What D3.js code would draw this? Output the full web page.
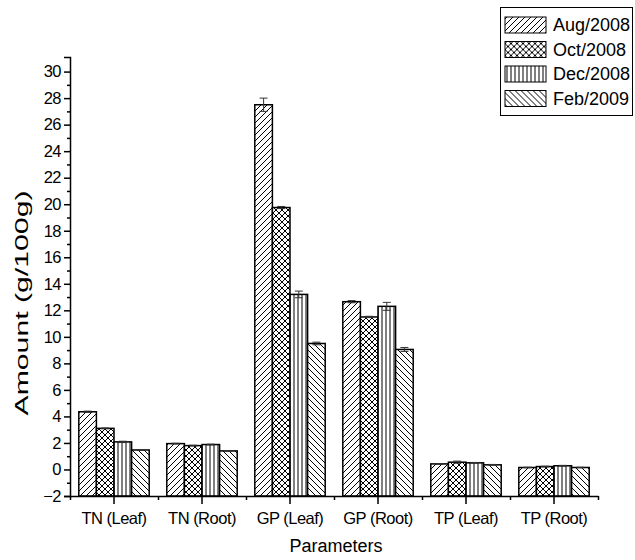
<!DOCTYPE html>
<html>
<head>
<meta charset="utf-8">
<script src="https://cdn.jsdelivr.net/npm/d3@7"></script>
<style>
  body { margin: 0; background: #fff; }
  svg { font-family: "Liberation Sans", Arial, sans-serif; }
</style>
</head>
<body>
<div id="chart"></div>
<script>
// data
var categories = ["TN (Leaf)", "TN (Root)", "GP (Leaf)", "GP (Root)", "TP (Leaf)", "TP (Root)"];
var seriesNames = ["Aug/2008", "Oct/2008", "Dec/2008", "Feb/2009"];
var aug = [4.35, 1.95, 27.5, 12.65, 0.42, 0.15];
var oct = [3.1, 1.8, 19.75, 11.5, 0.55, 0.22];
var dec = [2.08, 1.88, 13.2, 12.3, 0.5, 0.28];
var feb = [1.47, 1.4, 9.5, 9.05, 0.35, 0.15];
var augErr = [0.05, 0.03, 0.5, 0.08, 0.03, 0.02];
var octErr = [0.03, 0.03, 0.08, 0.05, 0.08, 0.03];
var decErr = [0.05, 0.03, 0.25, 0.3, 0.03, 0.03];
var febErr = [0.03, 0.03, 0.1, 0.15, 0.03, 0.02];
var yTicks = d3.range(-2, 31, 2);

var values = [aug, oct, dec, feb];
var errors = [augErr, octErr, decErr, febErr];
var patterns = ["pAug", "pOct", "pDec", "pFeb"];

var width = 635, height = 560;
var plotLeft = 70, plotRight = 598, plotTop = 57, plotBottom = 496;

var svg = d3.select("#chart").append("svg")
  .attr("width", width)
  .attr("height", height);

// hatch patterns
var defs = svg.append("defs");
function hatch(id, w, h, d) {
  defs.append("pattern")
    .attr("id", id)
    .attr("patternUnits", "userSpaceOnUse")
    .attr("width", w)
    .attr("height", h)
    .call(function(p) {
      p.append("rect").attr("width", w).attr("height", h).attr("fill", "#fff");
      p.append("path").attr("d", d).attr("stroke", "#000").attr("stroke-width", 1).attr("fill", "none");
    });
}
hatch("pAug", 6, 6, "M-1,1 l2,-2 M0,6 l6,-6 M5,7 l2,-2");
hatch("pFeb", 6, 6, "M-1,5 l2,2 M0,0 l6,6 M5,-1 l2,2");
hatch("pOct", 6, 6, "M-1,1 l2,-2 M0,6 l6,-6 M5,7 l2,-2 M-1,5 l2,2 M0,0 l6,6 M5,-1 l2,2");
hatch("pDec", 4, 4, "M2,0 V4");

var x0 = d3.scaleBand().domain(categories).range([plotLeft, plotRight]);
var x1 = d3.scaleBand().domain(seriesNames).range([0, x0.bandwidth()]).paddingOuter(0.5);
var y = d3.scaleLinear().domain([-2, 31.1]).range([plotBottom, plotTop]);

// bars
var bars = [];
seriesNames.forEach(function(s, si) {
  categories.forEach(function(c, ci) {
    bars.push({ cat: c, series: s, si: si, v: values[si][ci], e: errors[si][ci] });
  });
});

var g = svg.append("g");
g.selectAll("rect.bar")
  .data(bars)
  .enter().append("rect")
  .attr("class", "bar")
  .attr("x", function(d) { return x0(d.cat) + x1(d.series); })
  .attr("width", x1.bandwidth())
  .attr("y", function(d) { return y(d.v); })
  .attr("height", function(d) { return y(-2) - y(d.v); })
  .attr("fill", function(d) { return "url(#" + patterns[d.si] + ")"; })
  .attr("stroke", "#000")
  .attr("stroke-width", 1.5);

// error bars
function cx(d) { return x0(d.cat) + x1(d.series) + x1.bandwidth() / 2; }
var eb = g.selectAll("g.err").data(bars).enter().append("g")
  .attr("class", "err")
  .attr("stroke", "#333").attr("stroke-width", 1);
eb.append("line")
  .attr("x1", cx)
  .attr("x2", cx)
  .attr("y1", function(d) { return y(d.v + d.e); })
  .attr("y2", function(d) { return y(d.v - d.e); });
eb.selectAll("line.cap")
  .data(function(d) { return [d.v + d.e, d.v - d.e].map(function(v) { return { d: d, v: v }; }); })
  .enter().append("line")
  .attr("class", "cap")
  .attr("x1", function(o) { return cx(o.d) - 4; })
  .attr("x2", function(o) { return cx(o.d) + 4; })
  .attr("y1", function(o) { return y(o.v); })
  .attr("y2", function(o) { return y(o.v); });

// y axis
svg.append("g")
  .attr("transform", "translate(" + plotLeft + ",0)")
  .call(d3.axisLeft(y).tickValues(yTicks).tickSizeOuter(0).tickSize(6).tickPadding(3));
svg.append("g")
  .attr("transform", "translate(" + plotLeft + ",0)")
  .call(d3.axisLeft(y).tickValues(d3.range(-1, 31, 2)).tickSize(3).tickFormat("").tickSizeOuter(0))
  .call(function(a) { a.select(".domain").remove(); });

// x axis
svg.append("g")
  .attr("transform", "translate(0," + plotBottom + ")")
  .call(d3.axisBottom(x0).tickSize(8).tickSizeOuter(0).tickPadding(8));
svg.append("g")
  .attr("transform", "translate(0," + plotBottom + ")")
  .call(d3.axisBottom(d3.scaleLinear().domain([0, categories.length]).range([plotLeft, plotRight]))
    .tickValues(d3.range(0, categories.length + 1)).tickSize(4).tickFormat("").tickSizeOuter(0))
  .call(function(a) { a.select(".domain").remove(); });

svg.selectAll(".domain").attr("stroke", "#000").attr("stroke-width", 1.5);
svg.selectAll(".tick line").attr("stroke", "#000").attr("stroke-width", 1.5);
svg.selectAll(".tick text").attr("font-size", 16.5).attr("fill", "#000")
  .attr("letter-spacing", "-0.5px")
  .attr("font-family", "'Liberation Sans', Arial, sans-serif");

// axis titles
svg.append("text")
  .attr("transform", "translate(28,303) rotate(-90)")
  .attr("text-anchor", "middle")
  .attr("font-size", 19)
  .attr("textLength", 225)
  .attr("lengthAdjust", "spacingAndGlyphs")
  .text("Amount (g/100g)");

svg.append("text")
  .attr("x", 336)
  .attr("y", 552)
  .attr("text-anchor", "middle")
  .attr("font-size", 18)
  .text("Parameters");

// legend
var legend = svg.append("g");
legend.append("rect")
  .attr("x", 500.5).attr("y", 7.5)
  .attr("width", 132).attr("height", 108)
  .attr("fill", "#fff").attr("stroke", "#000").attr("stroke-width", 1);
var items = legend.selectAll("g.item").data(seriesNames).enter().append("g")
  .attr("transform", function(d, i) { return "translate(505," + (25 + i * 24.5) + ")"; });
items.append("rect")
  .attr("x", 0).attr("y", -8)
  .attr("width", 41).attr("height", 16)
  .attr("fill", function(d, i) { return "url(#" + patterns[i] + ")"; })
  .attr("stroke", "#000").attr("stroke-width", 1);
items.append("text")
  .attr("x", 48).attr("y", 0)
  .attr("dy", "0.35em")
  .attr("font-size", 18)
  .text(function(d) { return d; });
</script>
</body>
</html>
